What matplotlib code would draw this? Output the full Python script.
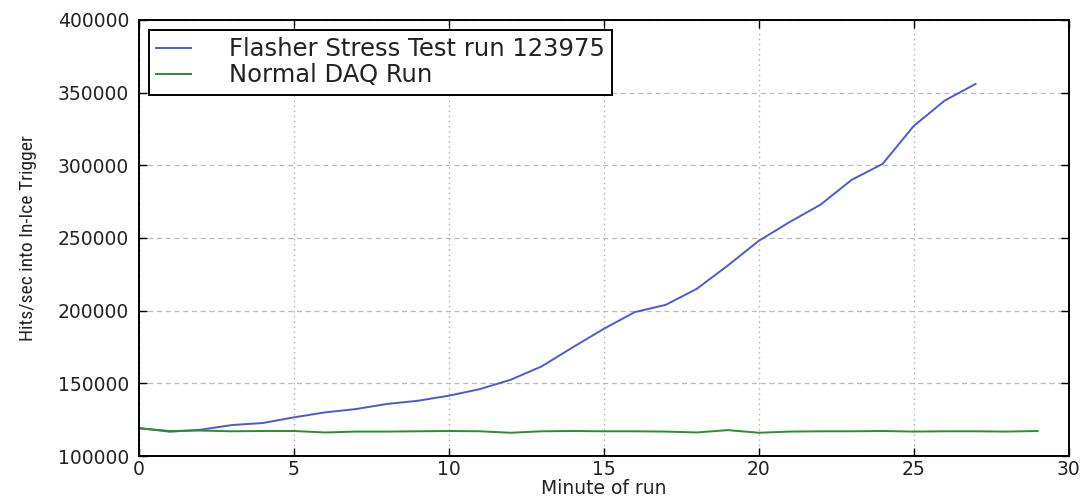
import matplotlib
matplotlib.use("Agg")
import matplotlib.pyplot as plt
from matplotlib import font_manager

minutes_flasher = list(range(0, 28))
flasher_rate = [119300, 116700, 118100, 121300, 122700, 126600, 130000, 132300, 135800, 138000,
                141500, 146000, 152500, 161700, 174800, 187500, 199000, 204000, 215000, 231000,
                248000, 261000, 273000, 290000, 301000, 327000, 344500, 356000]

minutes_normal = list(range(0, 30))
normal_rate = [119000, 117200, 117500, 117000, 117200, 117200, 116200, 116800, 116800, 117000,
               117200, 117000, 116000, 117000, 117200, 117000, 117000, 116800, 116200, 117800,
               116000, 116800, 117000, 117000, 117200, 116800, 117000, 117000, 116800, 117200]

series_labels = ["Flasher Stress Test run 123975", "Normal DAQ Run"]
x_label = "Minute of run"
y_label = "Hits/sec into In-Ice Trigger"

plt.rcParams['font.family'] = ['DejaVu Sans']

# pick a narrow font for the y label if one is installed
ylab_family, ylab_size = 'Liberation Sans', 12.5
for fam, size in [('Liberation Sans Narrow', 14.5), ('Roboto Condensed', 14), ('Open Sans Condensed', 14)]:
    try:
        font_manager.findfont(font_manager.FontProperties(family=fam), fallback_to_default=False)
        ylab_family, ylab_size = fam, size
        break
    except Exception:
        pass

fig = plt.figure(figsize=(10.91, 5.0), dpi=100, facecolor='white')
ax = fig.add_axes([0.1274, 0.088, 0.852, 0.872])

ax.plot(minutes_flasher, flasher_rate, color='#4a5ad6', lw=1.4, label=series_labels[0])
ax.plot(minutes_normal, normal_rate, color='#2a8f2a', lw=1.4, label=series_labels[1])

ax.set_xlim(0, 30)
ax.set_ylim(100000, 400000)
ax.set_xticks([0, 5, 10, 15, 20, 25, 30])
ax.set_yticks([100000, 150000, 200000, 250000, 300000, 350000, 400000])
ax.ticklabel_format(style='plain', useOffset=False)
ax.xaxis.grid(True, color='#b8b8b8', linestyle=(0, (1.2, 2.5)), linewidth=1.0)
ax.yaxis.grid(True, color='#b8b8b8', linestyle=(0, (4, 3)), linewidth=0.9)
ax.tick_params(direction='in', length=6, width=1, labelsize=13.5, top=True, right=True,
               colors='black', labelcolor='#222222')
ax.tick_params(axis='x', pad=3)
ax.tick_params(axis='y', pad=7)
for s in ax.spines.values():
    s.set_linewidth(1.4)
ax.set_xlabel(x_label, fontsize=13.5, labelpad=0, color='#222222')
ax.set_ylabel(y_label, fontsize=ylab_size, family=[ylab_family, 'DejaVu Sans'],
              labelpad=15, color='#222222')

leg = ax.legend(loc='upper left', fontsize=17.5, fancybox=False, framealpha=1,
                edgecolor='black', handlelength=1.45, borderpad=0.3, labelspacing=0.1,
                handletextpad=1.55, borderaxespad=0.4)
leg.get_frame().set_linewidth(1.4)
for t in leg.get_texts():
    t.set_color('#222222')

fig.savefig("out.png", dpi=100, facecolor='white')
